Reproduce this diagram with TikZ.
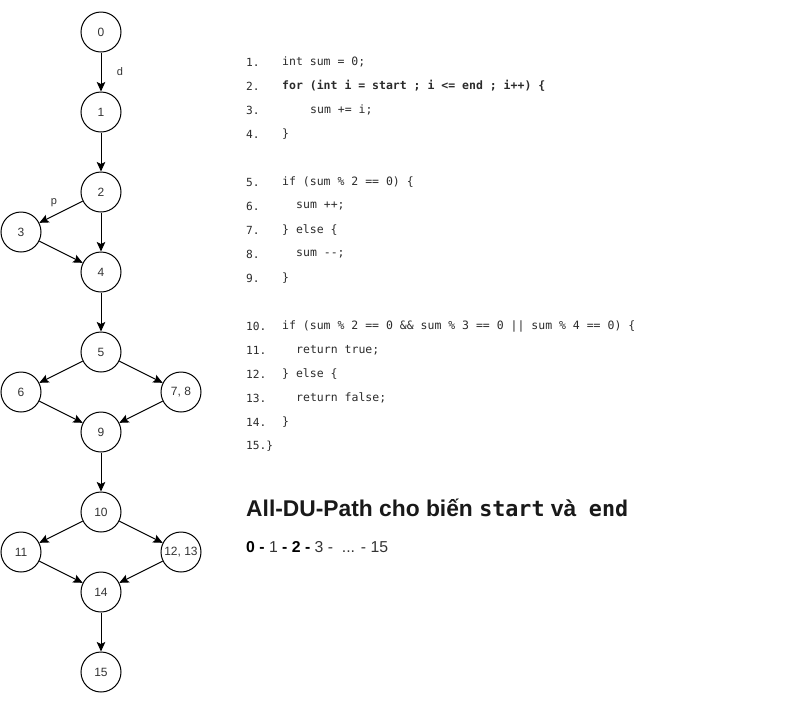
\documentclass[tikz,border=0pt]{standalone}
\usepackage{fontspec}
\setmainfont{Liberation Sans}
\setmonofont{DejaVu Sans Mono}
\usetikzlibrary{arrows.meta}
\definecolor{ink}{HTML}{333333}
\definecolor{codeink}{HTML}{2B2B2B}
\begin{document}
\begin{tikzpicture}[x=1pt,y=-1pt,
  vtx/.style={circle,draw=black,line width=1pt,minimum size=40pt,inner sep=0pt,
    font=\fontsize{12}{14}\selectfont,text=ink},
  flow/.style={line width=1pt,-{Stealth[length=9.5pt,width=8.5pt,inset=2pt]}},
  elabel/.style={inner sep=0pt,font=\fontsize{11}{13}\selectfont,text=ink},
  lno/.style={anchor=west,inner sep=0pt,font=\ttfamily\fontsize{11.2}{13}\selectfont,text=codeink},
  code/.style={anchor=west,inner sep=0pt,font=\ttfamily\fontsize{11.5}{13}\selectfont,text=codeink},
  heading/.style={anchor=west,inner sep=0pt,font=\bfseries\fontsize{22.8}{26}\selectfont,text=black!90},
  pathtext/.style={anchor=west,inner sep=0pt,font=\fontsize{15.8}{19}\selectfont,text=ink}
]
\useasboundingbox (0,0) rectangle (803,713);

% control flow graph
\node[vtx] (n0)  at (101,32)  {0};
\node[vtx] (n1)  at (101,112) {1};
\node[vtx] (n2)  at (101,192) {2};
\node[vtx] (n3)  at (21,232)  {3};
\node[vtx] (n4)  at (101,272) {4};
\node[vtx] (n5)  at (101,352) {5};
\node[vtx] (n6)  at (21,392)  {6};
\node[vtx] (n78) at (181,392) {7, 8};
\node[vtx] (n9)  at (101,432) {9};
\node[vtx] (n10) at (101,512) {10};
\node[vtx] (n11) at (21,552)  {11};
\node[vtx] (n1213) at (181,552) {12, 13};
\node[vtx] (n14) at (101,592) {14};
\node[vtx] (n15) at (101,672) {15};

\draw[flow] (n0) -- (n1);
\draw[flow] (n1) -- (n2);
\draw[flow] (n2) -- (n3);
\draw[flow] (n2) -- (n4);
\draw[flow] (n3) -- (n4);
\draw[flow] (n4) -- (n5);
\draw[flow] (n5) -- (n6);
\draw[flow] (n5) -- (n78);
\draw[flow] (n6) -- (n9);
\draw[flow] (n78) -- (n9);
\draw[flow] (n9) -- (n10);
\draw[flow] (n10) -- (n11);
\draw[flow] (n10) -- (n1213);
\draw[flow] (n11) -- (n14);
\draw[flow] (n1213) -- (n14);
\draw[flow] (n14) -- (n15);

\node[elabel] (ld) at (120,72)  {d};
\node[elabel] (lp) at (54,203)  {p};

% source listing
\node[lno] (l1) at (246,62)  {1.};
\node[code] (c1) at (282,62) {int sum = 0;};
\node[lno] (l2) at (246,86)  {2.};
\node[code,font=\ttfamily\bfseries\fontsize{11.5}{13}\selectfont] (c2) at (282,86) {for (int i = start ; i <= end ; i++) \{};
\node[lno] (l3) at (246,110) {3.};
\node[code] (c3) at (310,110) {sum += i;};
\node[lno] (l4) at (246,134) {4.};
\node[code] (c4) at (282,134) {\}};

\node[lno] (l5) at (246,182) {5.};
\node[code] (c5) at (282,182) {if (sum \% 2 == 0) \{};
\node[lno] (l6) at (246,206) {6.};
\node[code] (c6) at (296,206) {sum ++;};
\node[lno] (l7) at (246,230) {7.};
\node[code] (c7) at (282,230) {\} else \{};
\node[lno] (l8) at (246,254) {8.};
\node[code] (c8) at (296,254) {sum -{}-;};
\node[lno] (l9) at (246,278) {9.};
\node[code] (c9) at (282,278) {\}};

\node[lno] (l10) at (246,326) {10.};
\node[code] (c10) at (282,326) {if (sum \% 2 == 0 \&\& sum \% 3 == 0 || sum \% 4 == 0) \{};
\node[lno] (l11) at (246,350) {11.};
\node[code] (c11) at (296,350) {return true;};
\node[lno] (l12) at (246,374) {12.};
\node[code] (c12) at (282,374) {\} else \{};
\node[lno] (l13) at (246,398) {13.};
\node[code] (c13) at (296,398) {return false;};
\node[lno] (l14) at (246,422) {14.};
\node[code] (c14) at (282,422) {\}};
\node[lno] (l15) at (246,446) {15.\}};

% heading and path
\node[heading] (title) at (246,508)
  {All-DU-Path cho biến {\ttfamily\fontsize{21.7}{26}\selectfont start} và\ \ {\ttfamily\fontsize{21.7}{26}\selectfont end}};
\node[pathtext] (path) at (246,547)
  {{\bfseries\color{black} 0 -} 1 {\bfseries\color{black} - 2 -} 3 -\ \ ... - 15};
\end{tikzpicture}
\end{document}
